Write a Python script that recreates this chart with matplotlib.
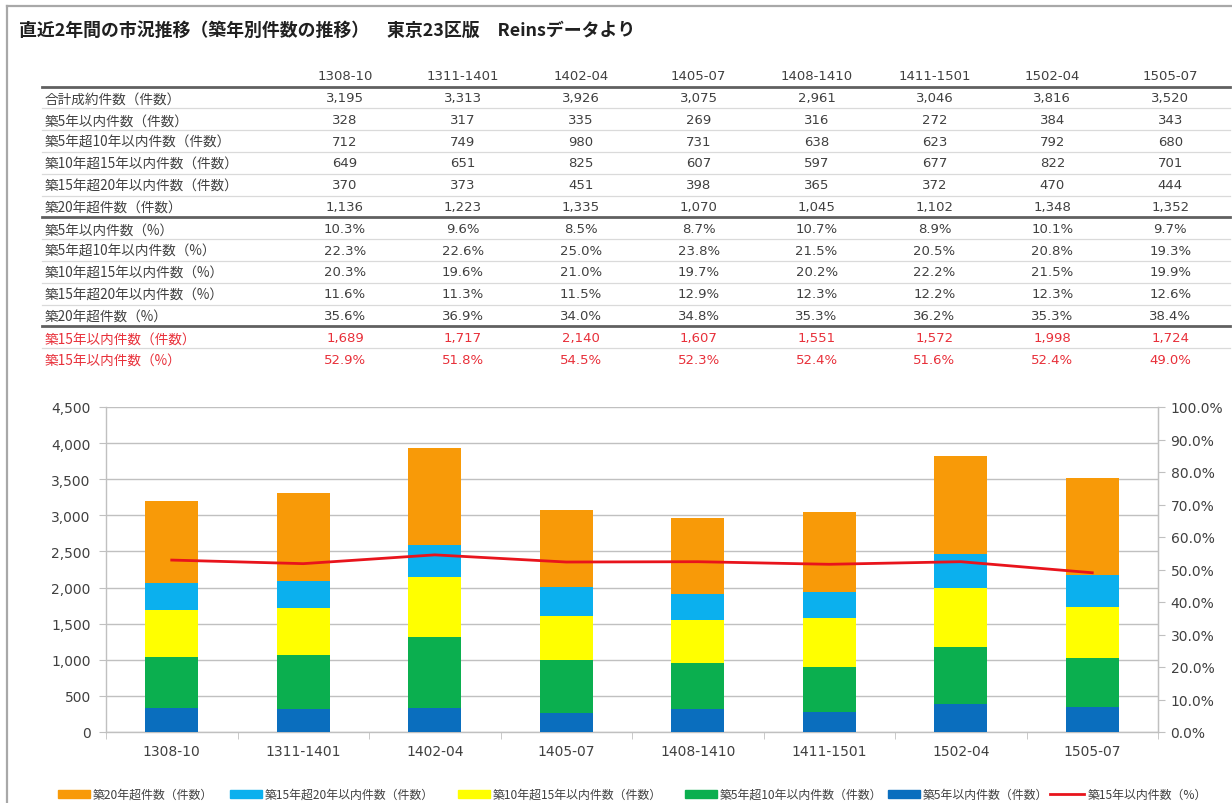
import matplotlib
matplotlib.use("Agg")
import matplotlib.pyplot as plt
from matplotlib.lines import Line2D
from matplotlib.patches import Rectangle
from matplotlib.ticker import FuncFormatter, FixedLocator

# ---------------- data ----------------
periods = ["1308-10", "1311-1401", "1402-04", "1405-07", "1408-1410", "1411-1501", "1502-04", "1505-07"]
total = [3195, 3313, 3926, 3075, 2961, 3046, 3816, 3520]
within5 = [328, 317, 335, 269, 316, 272, 384, 343]
y5to10 = [712, 749, 980, 731, 638, 623, 792, 680]
y10to15 = [649, 651, 825, 607, 597, 677, 822, 701]
y15to20 = [370, 373, 451, 398, 365, 372, 470, 444]
over20 = [1136, 1223, 1335, 1070, 1045, 1102, 1348, 1352]
pct_within5 = [10.3, 9.6, 8.5, 8.7, 10.7, 8.9, 10.1, 9.7]
pct_5to10 = [22.3, 22.6, 25.0, 23.8, 21.5, 20.5, 20.8, 19.3]
pct_10to15 = [20.3, 19.6, 21.0, 19.7, 20.2, 22.2, 21.5, 19.9]
pct_15to20 = [11.6, 11.3, 11.5, 12.9, 12.3, 12.2, 12.3, 12.6]
pct_over20 = [35.6, 36.9, 34.0, 34.8, 35.3, 36.2, 35.3, 38.4]
within15 = [1689, 1717, 2140, 1607, 1551, 1572, 1998, 1724]
pct_within15 = [52.9, 51.8, 54.5, 52.3, 52.4, 51.6, 52.4, 49.0]

row_labels = ["合計成約件数（件数）", "築5年以内件数（件数）", "築5年超10年以内件数（件数）",
              "築10年超15年以内件数（件数）", "築15年超20年以内件数（件数）", "築20年超件数（件数）",
              "築5年以内件数（%）", "築5年超10年以内件数（%）", "築10年超15年以内件数（%）",
              "築15年超20年以内件数（%）", "築20年超件数（%）",
              "築15年以内件数（件数）", "築15年以内件数（%）"]

legend_labels = ["築20年超件数（件数）", "築15年超20年以内件数（件数）", "築10年超15年以内件数（件数）",
                 "築5年超10年以内件数（件数）", "築5年以内件数（件数）", "築15年以内件数（%）"]

title = "直近2年間の市況推移（築年別件数の推移）　東京23区版　Reinsデータより"

# ---------------- style ----------------
C_ORANGE = "#F89A08"
C_LBLUE = "#0BB0EE"
C_YELLOW = "#FFFF00"
C_GREEN = "#0BAF4F"
C_BLUE = "#0A6EBE"
C_RED = "#E8141C"
TXT = "#404040"
GRID = "#C0C0C0"
JP = ["Noto Sans CJK JP", "DejaVu Sans"]
NUM = ["DejaVu Sans", "Noto Sans CJK JP"]

plt.rcParams["font.family"] = JP

W, H = 1232, 804
fig = plt.figure(figsize=(W / 100, H / 100), dpi=100)


def fx(px):
    return px / W


def fy(py):
    return 1 - py / H


# border
fig.add_artist(Line2D([fx(7), fx(7)], [fy(7), 0], color="#A8A8A8", lw=1.6))
fig.add_artist(Line2D([fx(7), 1], [fy(7), fy(7)], color="#A8A8A8", lw=1.6))

# title
fig.text(fx(19), fy(31), title, fontsize=12.9, fontweight="bold", color="#202020",
         va="center", ha="left", family=JP)

# ---------------- table ----------------
col_x0, col_dx = 345, 117.9
row_y0, row_dy = 98.5, 21.8
tab_l, tab_r = 42, 1230


def fmt_int(v):
    return f"{v:,}"


def fmt_pct(v):
    return f"{v:.1f}%"


rows = [
    (total, fmt_int), (within5, fmt_int), (y5to10, fmt_int), (y10to15, fmt_int),
    (y15to20, fmt_int), (over20, fmt_int),
    (pct_within5, fmt_pct), (pct_5to10, fmt_pct), (pct_10to15, fmt_pct),
    (pct_15to20, fmt_pct), (pct_over20, fmt_pct),
    (within15, fmt_int), (pct_within15, fmt_pct),
]

header_y = 77
for i, p in enumerate(periods):
    fig.text(fx(col_x0 + i * col_dx), fy(header_y), p, fontsize=9.5, color=TXT,
             ha="center", va="center", family=NUM)

for r, (vals, f) in enumerate(rows):
    y = row_y0 + r * row_dy
    color = "#E8303A" if r >= 11 else TXT
    fig.text(fx(45), fy(y + 1), row_labels[r], fontsize=9.8, color=color, ha="left",
             va="center", family=JP)
    for i, v in enumerate(vals):
        fig.text(fx(col_x0 + i * col_dx), fy(y), f(v), fontsize=9.5, color=color,
                 ha="center", va="center", family=NUM)

# table rules
thick_after = {-1, 5, 10}
for r in range(-1, 12):
    y = row_y0 + r * row_dy + row_dy / 2
    if r in thick_after:
        fig.add_artist(Line2D([fx(tab_l), fx(tab_r)], [fy(y), fy(y)], color="#606060", lw=2.0))
    else:
        fig.add_artist(Line2D([fx(tab_l), fx(tab_r)], [fy(y), fy(y)], color="#DADADA", lw=0.9))

# ---------------- chart ----------------
ax = fig.add_axes([fx(106), fy(733), fx(1158 - 106), (733 - 408) / H])
x = list(range(len(periods)))
bw = 0.40
series = [(within5, C_BLUE), (y5to10, C_GREEN), (y10to15, C_YELLOW), (y15to20, C_LBLUE), (over20, C_ORANGE)]
bottom = [0] * len(x)
for vals, c in series:
    ax.bar(x, vals, bw, bottom=bottom, color=c, zorder=3, linewidth=0)
    bottom = [b + v for b, v in zip(bottom, vals)]

ax.set_xlim(-0.5, len(x) - 0.5)
ax.set_ylim(0, 4500)
ax.set_yticks(range(0, 4501, 500))
ax.yaxis.set_major_formatter(FuncFormatter(lambda v, p: f"{int(v):,}"))
ax.grid(axis="y", color=GRID, lw=1.0, zorder=0)
ax.set_xticks(x)
ax.set_xticklabels(periods)
ax.xaxis.set_minor_locator(FixedLocator([i - 0.5 for i in range(len(x) + 1)]))
ax.tick_params(axis="x", which="major", length=0, pad=9, labelsize=10, labelcolor=TXT)
ax.tick_params(axis="x", which="minor", length=5, color=GRID, direction="out")
ax.tick_params(axis="y", length=5, color=GRID, labelsize=10, labelcolor=TXT, pad=6)
for lab in ax.get_xticklabels() + ax.get_yticklabels():
    lab.set_family(NUM)
ax.spines["top"].set_visible(False)
for s in ["left", "bottom", "right"]:
    ax.spines[s].set_color(GRID)
    ax.spines[s].set_linewidth(1.0)

ax2 = ax.twinx()
ax2.plot(x, pct_within15, color=C_RED, lw=2.0, zorder=5)
ax2.set_ylim(0, 100)
ax2.set_yticks(range(0, 101, 10))
ax2.yaxis.set_major_formatter(FuncFormatter(lambda v, p: f"{v:.1f}%"))
ax2.tick_params(axis="y", length=5, color=GRID, labelsize=10, labelcolor=TXT, pad=4)
for lab in ax2.get_yticklabels():
    lab.set_family(NUM)
for s in ["top", "left", "bottom"]:
    ax2.spines[s].set_visible(False)
ax2.spines["right"].set_color(GRID)

# ---------------- legend ----------------
leg_y = 795
leg_items = [
    (58, C_ORANGE, "patch"), (230, C_LBLUE, "patch"), (458, C_YELLOW, "patch"),
    (685, C_GREEN, "patch"), (888, C_BLUE, "patch"), (1050, C_RED, "line"),
]
for (px, c, kind), lab in zip(leg_items, legend_labels):
    if kind == "patch":
        fig.add_artist(Rectangle((fx(px), fy(leg_y + 4)), fx(32), 8 / H, color=c,
                                 transform=fig.transFigure))
        tx = px + 35
    else:
        fig.add_artist(Line2D([fx(px), fx(px + 34)], [fy(leg_y), fy(leg_y)], color=c, lw=2))
        tx = px + 38
    fig.text(fx(tx), fy(leg_y), lab, fontsize=8.6, color=TXT, ha="left", va="center", family=JP)

fig.savefig("out.png", dpi=100)
